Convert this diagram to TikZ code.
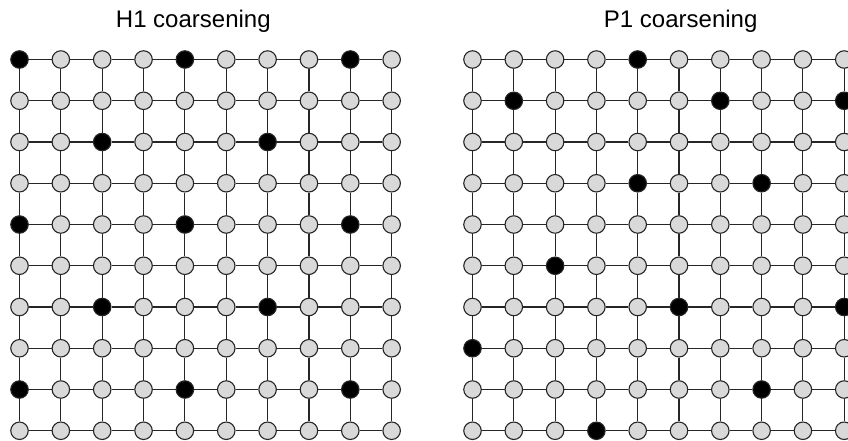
\documentclass[tikz,border=0pt]{standalone}
\usepackage{fontspec}
\setmainfont{Liberation Sans}
\definecolor{ptgray}{HTML}{D9D9D9}
\definecolor{edgecol}{HTML}{262626}
% Coarse points of each grid, listed as row-column
\def\blackL{0-0,0-4,0-8,2-2,2-6,4-0,4-4,4-8,6-2,6-6,8-0,8-4,8-8}
\def\blackR{0-4,1-1,1-6,1-9,3-4,3-7,5-2,6-5,6-9,7-0,8-7,9-3}
\makeatletter
% Sets \ptfill to black when row-column #2-#3 is in list #1
\newcommand\pickfill[3]{%
  \edef\pk@tmp{\noexpand\in@{,#2-#3,}{,#1,}}\pk@tmp
  \ifin@\def\ptfill{black}\else\def\ptfill{ptgray}\fi}
\makeatother
\begin{document}
\begin{tikzpicture}[x=1pt,y=1pt,
  pt/.style={circle,draw=edgecol,line width=1.1pt,minimum size=17.5pt,inner sep=0pt},
  link/.style={draw=edgecol,line width=1.1pt},
  ttl/.style={font=\fontsize{24}{28}\selectfont,anchor=base}]
\useasboundingbox (0,0) rectangle (848,-440);

\node[ttl] (tH) at (193.3,-27.4) {H1 coarsening};
\node[ttl] (tP) at (680.7,-27.4) {P1 coarsening};

% Grid points
\foreach \r in {0,...,9}{
  \foreach \c in {0,...,9}{
    \pickfill{\blackL}{\r}{\c}
    \node[pt,fill=\ptfill] (L-\r-\c) at ({19.5+41.35*\c},{-59.5-41.25*\r}) {};
    \pickfill{\blackR}{\r}{\c}
    \node[pt,fill=\ptfill] (R-\r-\c) at ({472.5+41.3*\c},{-59.5-41.25*\r}) {};
  }
}

% Grid links
\foreach \r in {0,...,9}{
  \foreach \c [evaluate=\c as \n using int(\c+1)] in {0,...,8}{
    \draw[link] (L-\r-\c) -- (L-\r-\n);
    \draw[link] (R-\r-\c) -- (R-\r-\n);
    \draw[link] (L-\c-\r) -- (L-\n-\r);
    \draw[link] (R-\c-\r) -- (R-\n-\r);
  }
}
\end{tikzpicture}
\end{document}
